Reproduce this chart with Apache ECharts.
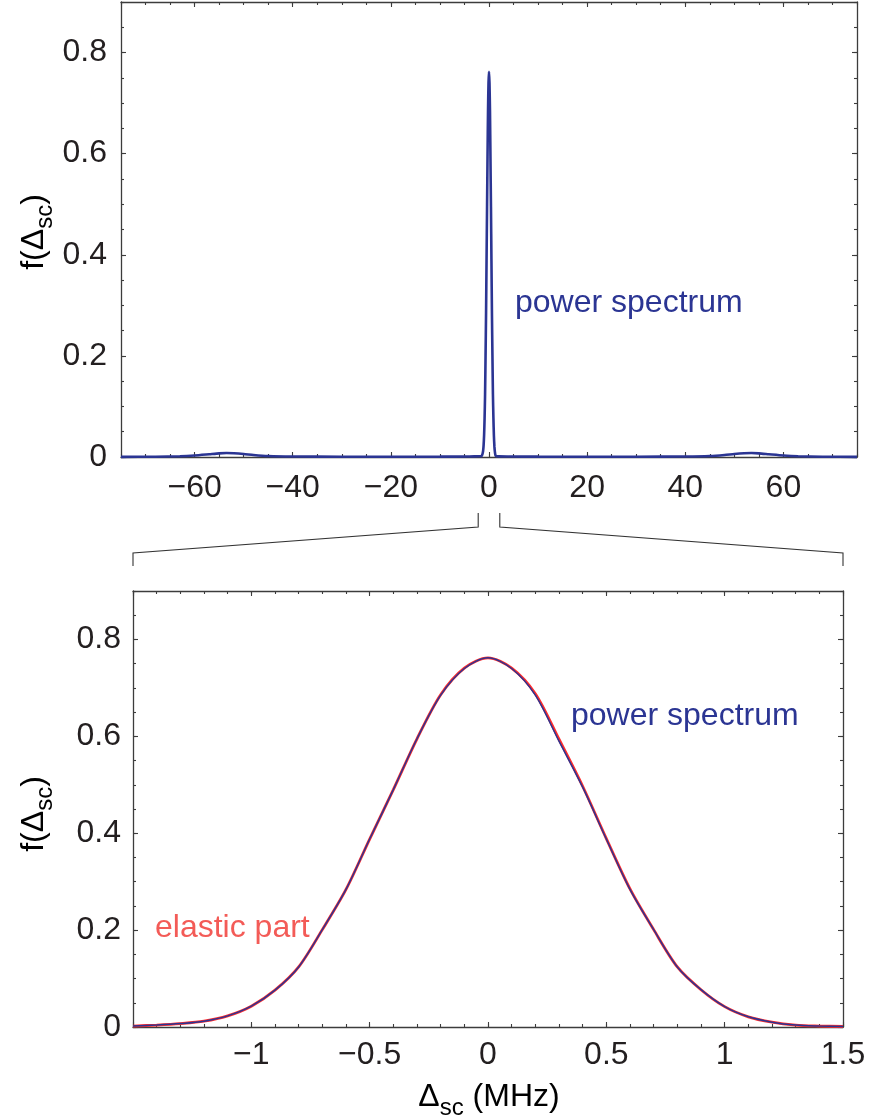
<!DOCTYPE html>
<html>
<head>
<meta charset="utf-8">
<script src="https://cdn.jsdelivr.net/npm/echarts@6/dist/echarts.min.js"></script>
<style>
  html, body { margin: 0; padding: 0; background: #ffffff; }
  #chart { width: 869px; height: 1118px; }
</style>
</head>
<body>
<div id="chart"></div>
<script>
// Scattering detuning (MHz) around the carrier
const detuning = [-1.5, -1.4, -1.3, -1.2, -1.1, -1.0, -0.9, -0.8, -0.7, -0.6, -0.5, -0.4, -0.3, -0.2, -0.1,
                  0.0, 0.1, 0.2, 0.3, 0.4, 0.5, 0.6, 0.7, 0.8, 0.9, 1.0, 1.1, 1.2, 1.3, 1.4, 1.5];
// Full power spectrum f(Δsc) on the detuning grid
const powerSpectrum = [0.002, 0.004, 0.007, 0.012, 0.023, 0.043, 0.076, 0.124, 0.201, 0.284, 0.388, 0.490, 0.595, 0.685, 0.740,
                       0.762, 0.740, 0.685, 0.590, 0.495, 0.388, 0.284, 0.201, 0.124, 0.077, 0.042, 0.021, 0.010, 0.004, 0.002, 0.001];
// Elastic (coherent) part of the spectrum
const elasticPart = [0.002, 0.004, 0.007, 0.012, 0.023, 0.043, 0.076, 0.124, 0.201, 0.284, 0.388, 0.490, 0.595, 0.686, 0.741,
                     0.762, 0.741, 0.688, 0.594, 0.497, 0.389, 0.285, 0.201, 0.124, 0.077, 0.042, 0.021, 0.010, 0.004, 0.002, 0.001];
// Wide-range wings of the power spectrum (motional sidebands near ±53 MHz)
const wingLeftX  = [-75, -68, -63, -60, -57, -55, -53.5, -52, -50, -48, -45, -40, -30, -20, -10, -4, -2];
const wingLeftY  = [0.0003, 0.0006, 0.0015, 0.003, 0.0055, 0.0072, 0.0078, 0.0074, 0.006, 0.004, 0.002, 0.001, 0.0005, 0.0005, 0.0007, 0.001, 0.0015];
const wingRightX = [2, 4, 10, 20, 30, 40, 45, 48, 50, 52, 53.5, 55, 57, 60, 63, 68, 75];
const wingRightY = [0.0012, 0.001, 0.0007, 0.0005, 0.0005, 0.001, 0.002, 0.004, 0.006, 0.0074, 0.0078, 0.0072, 0.0055, 0.003, 0.0015, 0.0006, 0.0003];

// Tick positions and labels
const topMajorX = [-60, -40, -20, 0, 20, 40, 60];
const topMinorStepX = 5;
const bottomMajorX = [-1.5, -1, -0.5, 0, 0.5, 1, 1.5];
const bottomLabelX = [-1, -0.5, 0, 0.5, 1, 1.5];
const bottomMinorStepX = 0.1;
const majorY = [0, 0.2, 0.4, 0.6, 0.8];
const minorStepY = 0.05;

const BLUE = '#2b3593';
const RED = '#ff2b2b';
const INK = '#231f20';
const FRAME = '#3c3c3c';
const FONT = '"Liberation Sans", Arial, Helvetica, sans-serif';
const FS = 32;

function steps(min, max, step) {
  const out = [];
  const n = Math.round((max - min) / step);
  for (let i = 0; i <= n; i++) out.push(+(min + i * step).toFixed(6));
  return out;
}
function fmt(v) {
  return (v < 0 ? '\u2212' : '') + String(+Math.abs(v).toFixed(4));
}

// Four axes per side pair: labelled major ticks, minor ticks, and the mirrored frame side
function frameAxes(dim, gridIndex, min, max, major, labels, minor, labelMargin) {
  const first = dim === 'x' ? 'bottom' : 'left';
  const second = dim === 'x' ? 'top' : 'right';
  const base = {
    type: 'value', gridIndex: gridIndex, min: min, max: max,
    splitLine: { show: false }, minorTick: { show: false }
  };
  const tick = (vals, len) => ({ show: true, inside: true, length: len, customValues: vals,
                                 lineStyle: { color: FRAME, width: 1.1 } });
  return [
    Object.assign({}, base, {
      position: first,
      axisLine: { show: true, onZero: false, lineStyle: { color: FRAME, width: 1.3 } },
      axisTick: tick(major, 5),
      axisLabel: { show: true, customValues: labels, formatter: fmt, margin: labelMargin,
                   fontSize: FS, color: INK, fontFamily: FONT }
    }),
    Object.assign({}, base, {
      position: first,
      axisLine: { show: false, onZero: false },
      axisTick: tick(minor, 3),
      axisLabel: { show: false }
    }),
    Object.assign({}, base, {
      position: second,
      axisLine: { show: true, onZero: false, lineStyle: { color: FRAME, width: 1.3 } },
      axisTick: tick(major, 5),
      axisLabel: { show: false }
    }),
    Object.assign({}, base, {
      position: second,
      axisLine: { show: false, onZero: false },
      axisTick: tick(minor, 3),
      axisLabel: { show: false }
    })
  ];
}

const minorY = steps(0, 0.9, minorStepY);
const xAxes = []
  .concat(frameAxes('x', 0, -75, 75, topMajorX, topMajorX, steps(-75, 75, topMinorStepX), 15))
  .concat(frameAxes('x', 1, -1.5, 1.5, bottomMajorX, bottomLabelX, steps(-1.5, 1.5, bottomMinorStepX), 12));
const yAxes = []
  .concat(frameAxes('y', 0, 0, 0.9, majorY, majorY, minorY, 14))
  .concat(frameAxes('y', 1, 0, 0.9, majorY, majorY, minorY, 12));

const zip = (xs, ys) => xs.map((x, i) => [x, ys[i]]);
const wideSpectrum = zip(wingLeftX, wingLeftY)
  .concat(zip(detuning, powerSpectrum))
  .concat(zip(wingRightX, wingRightY));

const axisNameRich = {
  a: { fontSize: FS, lineHeight: 46, fontFamily: FONT, color: INK },
  s: { fontSize: 24, lineHeight: 24, verticalAlign: 'bottom', fontFamily: FONT, color: INK }
};

const chart = echarts.init(document.getElementById('chart'), null, { renderer: 'canvas' });
chart.setOption({
  animation: false,
  backgroundColor: '#ffffff',
  grid: [
    { left: 121, right: 12, top: 2, height: 455 },
    { left: 133, right: 26, top: 591, height: 436 }
  ],
  xAxis: xAxes,
  yAxis: yAxes,
  series: [
    {
      name: 'power spectrum (wide)', type: 'line', xAxisIndex: 0, yAxisIndex: 0,
      data: wideSpectrum, showSymbol: false, clip: false, smooth: 0.2,
      lineStyle: { color: BLUE, width: 2.6 }, z: 3
    },
    {
      name: 'elastic part', type: 'line', xAxisIndex: 4, yAxisIndex: 4,
      data: zip(detuning, elasticPart), showSymbol: false, clip: false, smooth: 0.3,
      lineStyle: { color: RED, width: 2.8 }, z: 3
    },
    {
      name: 'power spectrum', type: 'line', xAxisIndex: 4, yAxisIndex: 4,
      data: zip(detuning, powerSpectrum), showSymbol: false, clip: false, smooth: 0.3,
      lineStyle: { color: BLUE, width: 1.5 }, z: 4
    }
  ],
  graphic: [
    { type: 'text', id: 'tPS', left: 515, top: 287,
      style: { text: 'power spectrum', fontSize: FS, fontFamily: FONT, fill: BLUE } },
    { type: 'text', id: 'bPS', left: 571, top: 700,
      style: { text: 'power spectrum', fontSize: FS, fontFamily: FONT, fill: BLUE } },
    { type: 'text', id: 'bEP', left: 155, top: 912,
      style: { text: 'elastic part', fontSize: FS, fontFamily: FONT, fill: '#f35b57' } },
    { type: 'text', id: 'yName0', x: 34, y: 232, rotation: Math.PI / 2,
      style: { text: '{a|f(Δ}{s|sc}{a|)}', rich: axisNameRich, align: 'center', verticalAlign: 'middle' } },
    { type: 'text', id: 'yName1', x: 34, y: 814, rotation: Math.PI / 2,
      style: { text: '{a|f(Δ}{s|sc}{a|)}', rich: axisNameRich, align: 'center', verticalAlign: 'middle' } },
    { type: 'text', id: 'xName1', x: 489, y: 1097,
      style: { text: '{a|Δ}{s|sc}{a| (MHz)}', rich: axisNameRich, align: 'center', verticalAlign: 'middle' } }
  ]
});

// Zoom bracket linking the central peak of the wide view to the lower panel
const zoomHalfWidth = 2.2;
const pL = chart.convertToPixel({ xAxisIndex: 0, yAxisIndex: 0 }, [-zoomHalfWidth, 0]);
const pR = chart.convertToPixel({ xAxisIndex: 0, yAxisIndex: 0 }, [zoomHalfWidth, 0]);
const qL = chart.convertToPixel({ xAxisIndex: 4, yAxisIndex: 4 }, [-1.5, 0.9]);
const qR = chart.convertToPixel({ xAxisIndex: 4, yAxisIndex: 4 }, [1.5, 0.9]);
const yTopTick = pL[1] + 56, yElbow = pL[1] + 70, yOuter = qL[1] - 38, yOuterEnd = qL[1] - 25;
chart.setOption({
  graphic: [
    { type: 'polyline', id: 'bracketL', silent: true,
      shape: { points: [[pL[0], yTopTick], [pL[0], yElbow], [qL[0], yOuter], [qL[0], yOuterEnd]] },
      style: { stroke: '#333', lineWidth: 1.1, fill: null } },
    { type: 'polyline', id: 'bracketR', silent: true,
      shape: { points: [[pR[0], yTopTick], [pR[0], yElbow], [qR[0], yOuter], [qR[0], yOuterEnd]] },
      style: { stroke: '#333', lineWidth: 1.1, fill: null } }
  ]
});
</script>
</body>
</html>
